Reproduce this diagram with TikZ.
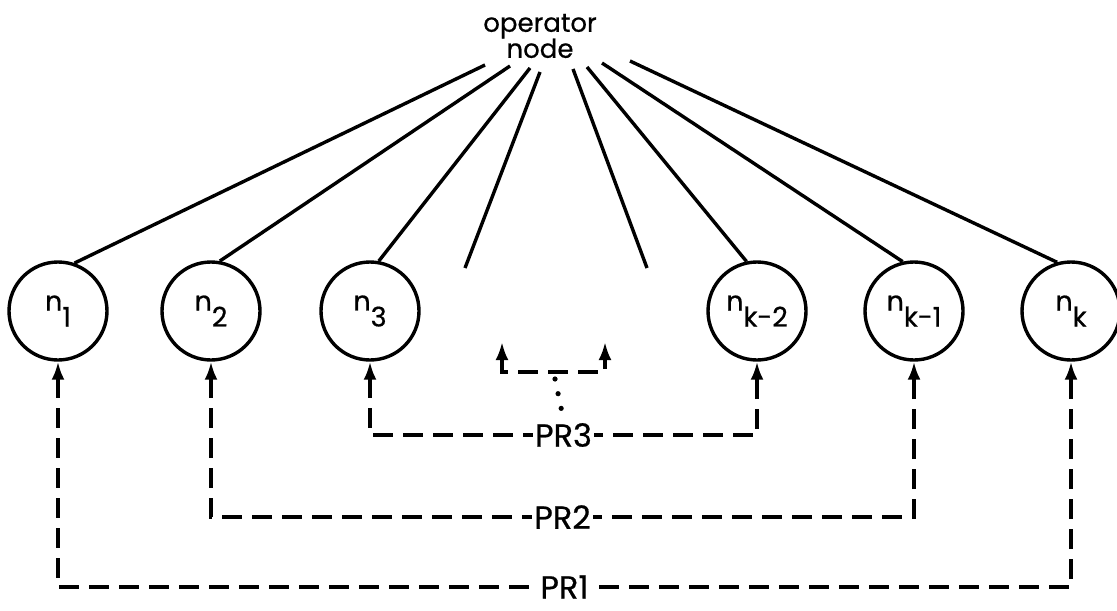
\documentclass[tikz,border=0pt]{standalone}
\usepackage{fontspec}
\setmainfont{Poppins}[FakeBold=0.6]
\usetikzlibrary{arrows.meta,positioning}

\newcommand{\nlbl}[1]{n\raisebox{-8pt}{#1}}

\begin{document}
\begin{tikzpicture}[x=0.5pt, y=-0.5pt,
    unit/.style={draw, circle, line width=1.7pt, minimum size=49pt, inner sep=0pt, font=\fontsize{13.5}{15}\selectfont},
    link/.style={line width=1.7pt},
    pr/.style={line width=1.7pt, dash pattern=on 10pt off 5pt, {Latex[length=9pt,width=6.5pt]}-{Latex[length=9pt,width=6.5pt]}},
    lbl/.style={fill=white, inner sep=1pt, font=\fontsize{16}{17}\selectfont}
  ]
    \useasboundingbox (0,0) rectangle (1117,610);
    \node[align=center, font=\fontsize{13}{13}\selectfont] (op) at (540,36) {operator\\node};
    \node[unit] (n1) at (58,311) {\nlbl{1}};
    \node[unit] (n2) at (211,311) {\nlbl{2}};
    \node[unit] (n3) at (370,311) {\nlbl{3}};
    \node[unit] (nk2) at (757,311) {\nlbl{k-2}};
    \node[unit] (nk1) at (914,311) {\nlbl{k-1}};
    \node[unit] (nk) at (1071,311) {\nlbl{k}};
    % ends of the lines under the operator node
    \coordinate (t1) at (485,65);
    \coordinate (t2) at (510,66);
    \coordinate (t3) at (530,68);
    \coordinate (t4) at (540,72);
    \coordinate (t5) at (573,69);
    \coordinate (t6) at (587,67);
    \coordinate (t7) at (602,63);
    \coordinate (t8) at (630,61);
    \coordinate (f4) at (465,268);
    \coordinate (f5) at (647,268);
    \draw[link] (t1) -- (n1.71);
    \draw[link] (t2) -- (n2.80);
    \draw[link] (t3) -- (n3.80);
    \draw[link] (t4) -- (f4);
    \draw[link] (t5) -- (f5);
    \draw[link] (t6) -- (nk2.102);
    \draw[link] (t7) -- (nk1.103);
    \draw[link] (t8) -- (nk.106);
    % pair routes
    \coordinate (b1) at (0,587);
    \coordinate (b2) at (0,517);
    \coordinate (b3) at (0,435);
    \draw[pr] (n1.south) -- (n1.south |- b1) -- node[lbl] (pr1) {PR1} (nk.south |- b1) -- (nk.south);
    \draw[pr] (n2.south) -- (n2.south |- b2) -- node[lbl] (pr2) {PR2} (nk1.south |- b2) -- (nk1.south);
    \draw[pr] (n3.south) -- (n3.south |- b3) -- node[lbl] (pr3) {PR3} (nk2.south |- b3) -- (nk2.south);
    \coordinate (a1) at (502,342);
    \coordinate (a2) at (605,342);
    \coordinate (mid) at (555,372);
    \draw[pr] (a1) -- (a1 |- mid) -- (a2 |- mid) -- (a2);
    \draw[line width=2.6pt, line cap=round, dash pattern=on 0pt off 7.5pt] (mid) ++(0,7) -- (pr3.north);
\end{tikzpicture}
\end{document}
